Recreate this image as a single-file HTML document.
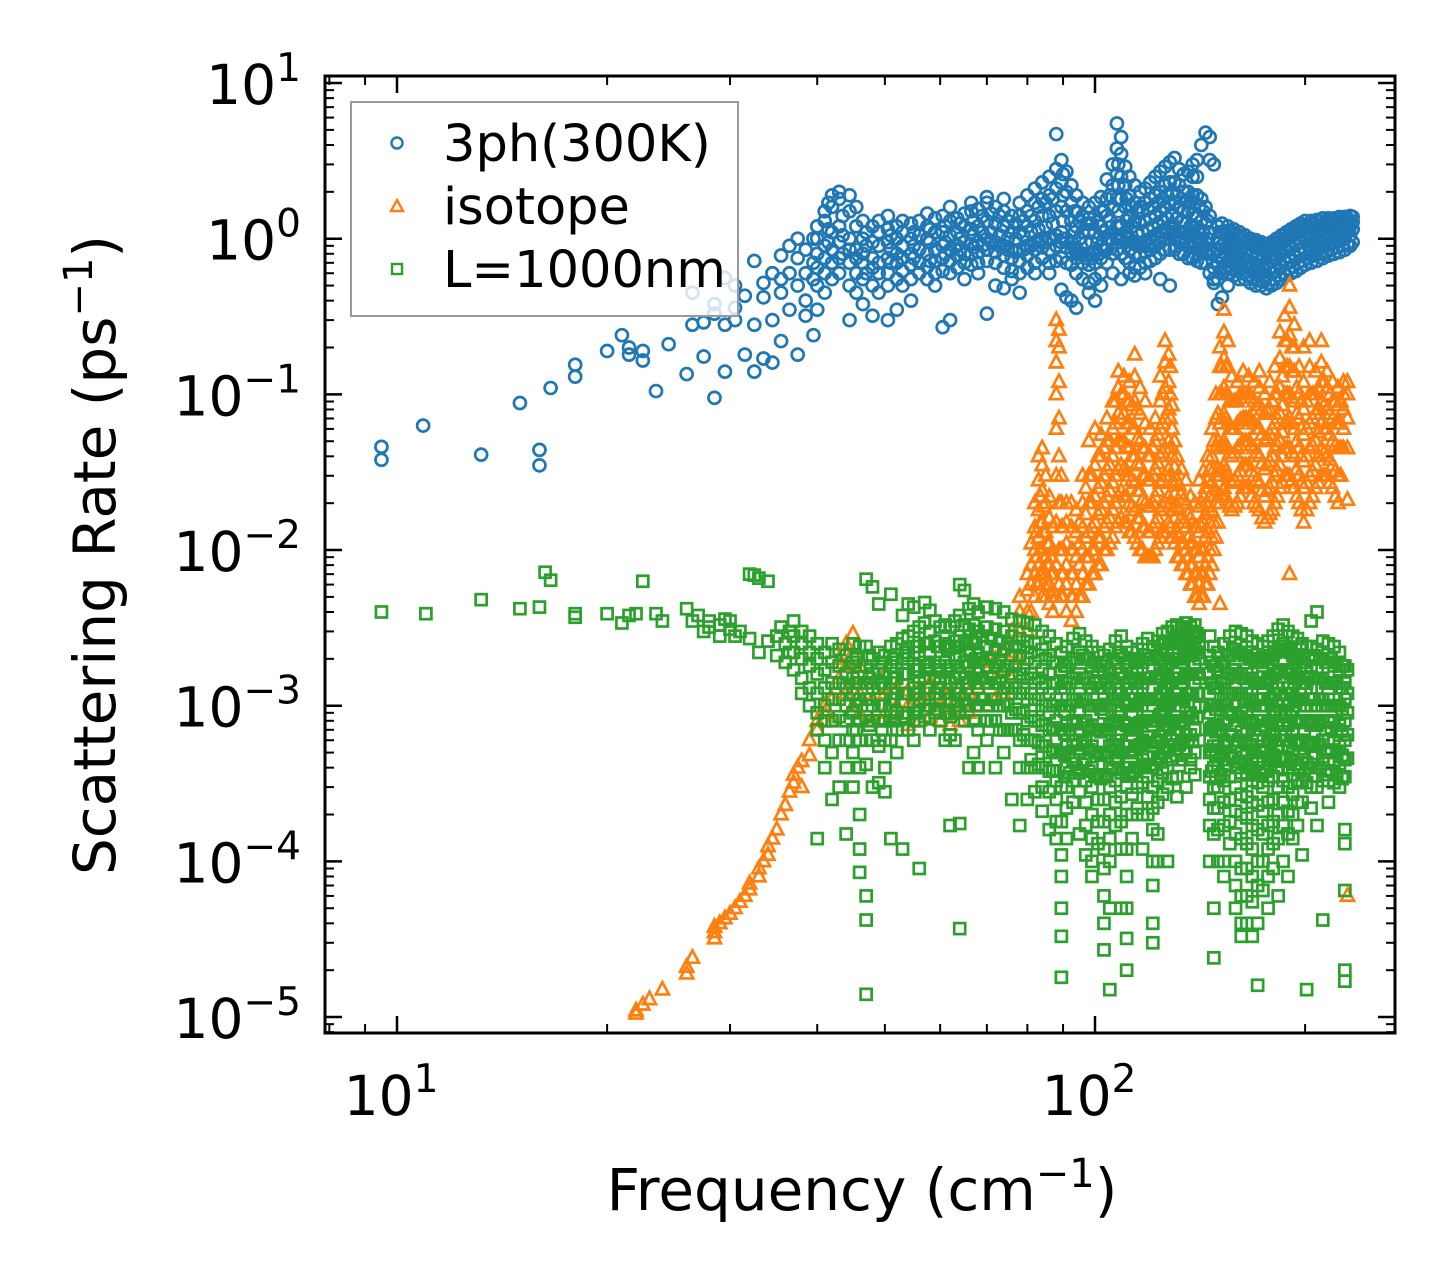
<!DOCTYPE html>
<html><head><meta charset="utf-8"><style>
html,body{margin:0;padding:0;background:#fff;}
svg{display:block;font-family:"DejaVu Sans","Liberation Sans",sans-serif;}
</style></head><body>
<svg id="chart" width="1455" height="1283" viewBox="0 0 1455 1283">
<defs><clipPath id="plotclip"><rect x="325" y="76" width="1070" height="957"/></clipPath></defs>
<g id="points" clip-path="url(#plotclip)"></g>
<g id="axes"></g>
<text x="862" y="1210" font-size="58" text-anchor="middle">Frequency (cm<tspan dy="-23" font-size="40">−1</tspan><tspan dy="23">)</tspan></text>
<text transform="translate(115,555) rotate(-90)" font-size="58" text-anchor="middle">Scattering Rate (ps<tspan dy="-23" font-size="40">−1</tspan><tspan dy="23">)</tspan></text>
<g>
<rect x="351" y="102" width="387" height="214" fill="#fff" fill-opacity="0.8" stroke="#999" stroke-width="2"/>
<circle cx="397" cy="143" r="5.5" fill="none" stroke="#1f77b4" stroke-width="2.4"/>
<text x="443" y="161" font-size="51">3ph(300K)</text>
<polygon points="397,200 403,211 391,211" fill="none" stroke="#ff7f0e" stroke-width="2.4"/>
<text x="443" y="224" font-size="51">isotope</text>
<rect x="392" y="264" width="10" height="10" fill="none" stroke="#2ca02c" stroke-width="2.4"/>
<text x="443" y="287" font-size="51">L=1000nm</text>
</g>
</svg>
<script>
// rows: [frequency (cm^-1), rate1, rate2, ...] (ps^-1)
const threePhRows = [
[9.5,0.046,0.038],[10.9,0.063],[13.2,0.041],[15.0,0.088],[16.0,0.044,0.035],[16.6,0.11],[18.0,0.13,0.155],
[20.0,0.19],[21.0,0.24],[21.5,0.18,0.2],[22.5,0.165,0.19],[23.5,0.105],[24.5,0.21],[26.0,0.135],[26.5,0.28,0.45],
[27.5,0.175,0.29],[28.5,0.095,0.33,0.38],[29.5,0.56,0.28,0.14],[30.5,0.3,0.36,0.5],[31.5,0.18,0.43],
[32.5,0.14,0.28,0.72],[33.5,0.42,0.52,0.17],[34.5,0.6,0.3,0.16],[35.5,0.45,0.78,0.55,0.22],[36.5,0.35,0.6,0.9],
[37.5,0.18,0.5,1.0,0.75],[38.5,0.32,0.85,0.6,0.4],[39.5,0.24,0.7,1.0,0.55],
[40,0.5,0.8,1.0,1.2,0.65,0.35],[41,0.6,0.9,1.3,1.5,0.75,0.45],[42,0.7,1.1,1.6,1.9,0.85,0.55],[43,0.75,1.2,1.8,2.0,0.95,0.6],
[44.5,0.7,1.0,1.5,1.9,0.85,0.5,0.3],[45.5,0.6,0.85,1.2,1.6,0.75,0.45],[46.5,0.55,0.8,1.0,1.3,0.7,0.38],[48,0.5,0.75,0.95,1.2,0.65,0.32],
[49,0.45,0.7,0.9,1.1,1.3,0.6],[50.5,0.5,0.75,0.95,1.15,1.4,0.6,0.3],[52,0.55,0.8,1.0,1.2,0.7,0.35],[53,0.5,0.75,0.9,1.1,1.3,0.62],
[54.5,0.55,0.8,1.0,1.25,0.68,0.4],[56,0.6,0.85,1.05,1.3,0.7],[57.5,0.55,0.8,1.0,1.2,1.45,0.66],[59,0.6,0.85,1.1,1.35,0.72,0.5],
[60.5,0.62,0.9,1.1,1.4,0.75,0.27],[62,0.6,0.85,1.05,1.3,1.6,0.72,0.3],[63.5,0.65,0.9,1.1,1.35,0.78],[65,0.7,0.95,1.2,1.45,0.8,0.55],
[66.5,0.68,0.92,1.15,1.5,1.7,0.8],[68,0.7,0.95,1.2,1.55,0.82,0.6],[70,0.72,1.0,1.3,1.7,1.85,0.85,0.33],[72,0.7,0.95,1.25,1.6,0.82,0.5],
[74,0.65,0.9,1.2,1.5,1.8,0.78,0.48],[76,0.62,0.85,1.1,1.4,0.75,0.55],[78,0.6,0.85,1.1,1.4,1.7,0.72,0.45],[80,0.65,0.9,1.2,1.5,1.9,0.78],
[82,0.7,0.95,1.3,1.7,2.1,0.85,0.6],[84,0.75,1.0,1.4,1.8,2.3,0.88],[86,0.7,1.0,1.4,1.9,2.5,0.85,0.6],[88,0.72,1.05,1.5,2.1,2.8,0.9,4.7],
[89.5,0.75,1.1,1.6,2.3,3.2,0.95,0.47],[91,0.7,1.0,1.5,2.0,2.7,0.88,0.42],[92.5,0.68,0.95,1.3,1.7,2.2,0.82,0.4],[94,0.6,0.85,1.2,1.5,1.9,0.75,0.36],
[96,0.55,0.8,1.1,1.4,1.7,0.7],[98,0.52,0.8,1.1,1.35,1.6,0.68,0.45],[100,0.55,0.82,1.1,1.4,1.7,0.7,0.4],[102,0.6,0.9,1.2,1.5,1.85,0.75,0.5],
[104,0.7,1.0,1.4,1.8,2.4,0.85],[106,0.8,1.1,1.6,2.2,3.0,0.95,0.6],[107.5,0.85,1.2,1.8,2.6,3.8,5.5,1.0],[109,0.8,1.2,1.8,2.5,3.5,4.5,1.0,0.55],
[110.5,0.75,1.1,1.6,2.2,2.9,0.95],[112,0.7,1.0,1.4,1.9,2.5,0.85,0.6],[114,0.65,0.95,1.3,1.7,2.2,0.8,0.58],[116,0.65,0.9,1.25,1.6,2.0,0.78],
[118,0.7,0.95,1.3,1.7,2.1,0.82,0.6],[120,0.72,1.0,1.35,1.8,2.3,0.85],[122,0.75,1.05,1.4,1.9,2.5,0.9],[124,0.8,1.1,1.5,2.0,2.7,0.95,0.55],
[126,0.85,1.15,1.6,2.2,2.9,1.0],[128,0.85,1.2,1.7,2.3,3.1,1.0,0.5],[130,0.85,1.2,1.7,2.3,3.3,1.0],[132,0.8,1.1,1.6,2.2,2.8,0.95],
[134,0.8,1.1,1.5,2.0,2.6,0.92],[136,0.75,1.05,1.5,2.0,2.7,0.9],[138,0.75,1.05,1.45,1.9,2.5,3.0,0.88],[140,0.72,1.0,1.4,1.9,2.5,3.2,0.85],
[142,0.7,1.0,1.3,1.8,0.85,4.0],[144,0.7,0.95,1.25,1.6,0.82,4.8],[146,0.6,0.85,1.1,1.4,4.5,3.2],[148,0.52,0.55,0.65,0.8,3.0],
[150,0.55,0.7,0.85,1.0,1.2,0.38],[152,0.6,0.75,0.9,1.1,1.25,0.42],[155,0.6,0.72,0.88,1.05,1.2,0.5],[158,0.58,0.7,0.85,1.0,1.15],
[161,0.55,0.68,0.82,0.98,1.1],[164,0.55,0.66,0.8,0.95,1.05],[167,0.52,0.64,0.78,0.92,1.0],[170,0.5,0.6,0.74,0.88,0.98],
[173,0.5,0.6,0.72,0.85,0.95],[176,0.48,0.58,0.7,0.82,0.92],[179,0.5,0.6,0.72,0.84,0.95],[182,0.52,0.62,0.75,0.88,1.0],
[185,0.55,0.66,0.8,0.92,1.05],[188,0.58,0.7,0.84,0.98,1.1],[191,0.6,0.72,0.88,1.02,1.15],[194,0.62,0.76,0.92,1.08,1.2],
[197,0.65,0.8,0.95,1.1,1.25],[200,0.68,0.82,1.0,1.15,1.3],[204,0.7,0.85,1.02,1.18,1.3],[208,0.72,0.88,1.05,1.2,1.32],
[212,0.75,0.9,1.05,1.2,1.35],[216,0.78,0.92,1.08,1.22,1.35],[220,0.8,0.95,1.1,1.25,1.35],[224,0.82,0.98,1.12,1.25,1.38],
[228,0.85,1.0,1.15,1.28,1.38],[232,0.9,1.05,1.2,1.3,1.4],
[41.5,0.95,1.15,1.7],[43.5,1.4,1.05,0.8],[47,0.9,1.1,0.6],[51,0.85,1.05,0.7],[55,0.9,1.1,0.75],[58,0.95,1.15,0.72],[61,0.95,1.2,0.8],
[64,1.0,1.25,0.85],[67,1.05,1.3,0.88],[69,1.1,1.4,0.9],[71,1.1,1.45,0.95],[73,1.05,1.4,0.9],[75,1.0,1.3,0.85],[77,1.0,1.25,0.82],
[79,1.05,1.3,0.85],[81,1.1,1.4,0.9],[83,1.15,1.6,0.95],[85,1.2,1.7,0.95],[87,1.25,1.8,1.0],[90,1.3,1.9,1.0,2.6],[93.5,1.1,1.5,0.85],
[95,1.0,1.3,0.8],[97,0.95,1.25,0.75],[99,0.95,1.25,0.75],[101,1.0,1.3,0.8],[103,1.1,1.5,0.85],[105,1.3,1.9,1.0],[108,1.5,2.2,3.0,1.2],
[111,1.3,1.8,1.0],[113,1.2,1.6,0.95],[115,1.1,1.5,0.9],[117,1.1,1.5,0.9],[119,1.15,1.55,0.9],[121,1.2,1.6,0.95],[123,1.25,1.7,1.0],
[125,1.3,1.8,1.05],[127,1.35,1.9,1.1],[129,1.4,2.0,1.1],[131,1.35,1.9,1.05],[133,1.3,1.8,1.0],[135,1.25,1.75,1.0],[137,1.2,1.7,0.95],
[139,1.2,1.7,0.95],[141,1.15,1.6,0.92],[143,1.1,1.5,0.9],[145,1.0,1.3,0.8],
[151,0.62,0.78,0.95,1.1],[153.5,0.65,0.8,0.95,1.12],[156.5,0.64,0.78,0.95,1.1],[159.5,0.62,0.76,0.92,1.05],[162.5,0.6,0.74,0.88,1.02],
[165.5,0.58,0.72,0.86,0.98],[168.5,0.55,0.68,0.82,0.95],[171.5,0.54,0.66,0.8,0.92],[174.5,0.53,0.64,0.76,0.88],[177.5,0.52,0.64,0.76,0.88],
[180.5,0.55,0.66,0.8,0.92],[183.5,0.58,0.7,0.84,0.96],[186.5,0.6,0.74,0.87,1.0],[189.5,0.64,0.77,0.92,1.05],[192.5,0.66,0.8,0.96,1.1],
[195.5,0.7,0.85,1.0,1.15],[198.5,0.72,0.88,1.05,1.2],[202,0.75,0.92,1.08,1.22],[206,0.78,0.95,1.12,1.25],[210,0.8,0.98,1.12,1.28],
[214,0.82,1.0,1.15,1.28],[218,0.85,1.02,1.18,1.3],[222,0.88,1.04,1.18,1.3],[226,0.9,1.06,1.2,1.32],[230,0.92,1.1,1.25,1.35],[234,0.95,1.15,1.28,1.38]
];
const isotopeRows = [
[22,1.05e-5,1.1e-5],[22.5,1.2e-5],[23,1.3e-5],[24,1.5e-5],[26,1.9e-5,2.1e-5],[26.5,2.4e-5],[28.5,3.2e-5,3.5e-5,3.8e-5],
[29,4e-5],[29.5,4.3e-5],[30,4.6e-5],[30.5,5e-5],[31,5.5e-5],[31.5,6e-5],[32,6.6e-5,7.2e-5],[33,8e-5,9e-5],[33.5,1e-4],
[34,1.1e-4,1.25e-4],[34.5,1.4e-4],[35,1.6e-4],[35.5,2e-4],[36,2.3e-4],[36.5,2.8e-4],[37,3.2e-4,3.6e-4],[37.5,4e-4],
[38,4.4e-4,3e-4],[39,4.8e-4,6e-4],[40,7e-4,8e-4],[41,9e-4,1e-3],[42,1.1e-3,0.8e-3],[43,1.5e-3,2e-3],
[44,1.2e-3,1.8e-3,2.5e-3],[45,1.4e-3,2.2e-3,2.9e-3,1.0e-3],[46,1.2e-3,1.8e-3,0.9e-3],[48,0.8e-3,1.1e-3,1.4e-3],[50,0.9e-3,1.2e-3,1.6e-3],
[52,0.8e-3,1.0e-3,1.3e-3],[54,0.75e-3,1.0e-3,1.25e-3],[56,0.8e-3,1.05e-3,1.3e-3],[58,0.85e-3,1.1e-3,1.4e-3],[60,0.8e-3,1.0e-3,1.3e-3],
[62,0.75e-3,0.95e-3,1.2e-3],[64,0.8e-3,1.0e-3,1.3e-3],[66,0.9e-3,1.2e-3,1.5e-3],[68,1.0e-3,1.3e-3,1.7e-3],[70,1.0e-3,1.4e-3,1.9e-3],
[72,1.1e-3,1.5e-3,2.0e-3],[74,1.2e-3,1.7e-3,2.3e-3],[76,1.5e-3,2.2e-3,3e-3],[78,2e-3,3e-3,4e-3,5e-3],[80,3e-3,4e-3,5.5e-3,7e-3],
[81,4e-3,6e-3,8e-3,0.011],[82,5e-3,7e-3,0.01,0.014,0.02],[83,6e-3,8e-3,0.012,0.018,0.028,0.04],[84,5e-3,7e-3,0.01,0.015,0.024,0.035,0.045],
[85,5e-3,7e-3,0.009,0.013,0.02,0.03],[86,4.5e-3,6e-3,0.008,0.011,0.016,0.022],[87,4e-3,5.5e-3,0.007,0.01,0.014],
[88,5e-3,0.008,0.015,0.03,0.06,0.1,0.16,0.22,0.3],[88.8,6e-3,0.01,0.02,0.04,0.07,0.12,0.2,0.26],[89.5,5e-3,0.007,0.01,0.014,0.02,0.03],
[91,4e-3,0.006,0.008,0.011,0.015,0.02],[92.5,3.5e-3,0.005,0.007,0.01,0.014,0.02],[94,4e-3,0.006,0.009,0.013,0.018],
[96,5e-3,0.007,0.01,0.014,0.02,0.03],[98,6e-3,0.009,0.013,0.02,0.03,0.05],[100,7e-3,0.01,0.015,0.022,0.035,0.06],
[102,8e-3,0.012,0.018,0.027,0.04,0.055],[104,0.01,0.015,0.022,0.033,0.05,0.07],[106,0.012,0.018,0.027,0.04,0.06,0.09],
[108,0.015,0.022,0.033,0.05,0.075,0.11,0.14],[110,0.015,0.022,0.033,0.05,0.075,0.1,0.13],[112,0.013,0.02,0.03,0.045,0.065,0.09,0.12],
[114,0.012,0.018,0.027,0.04,0.06,0.09,0.13,0.18],[116,0.01,0.016,0.024,0.035,0.05,0.075,0.11],[118,0.009,0.014,0.02,0.03,0.045,0.065,0.09],
[120,0.009,0.013,0.019,0.028,0.04,0.06],[122,0.01,0.015,0.022,0.033,0.05,0.07],[124,0.012,0.018,0.027,0.04,0.06,0.09,0.13],
[126,0.013,0.02,0.03,0.045,0.07,0.11,0.16,0.22],[127.5,0.015,0.022,0.033,0.05,0.08,0.12,0.18],[129,0.012,0.018,0.027,0.04,0.06,0.085],
[131,0.009,0.013,0.019,0.028,0.04],[133,0.008,0.011,0.016,0.023,0.033],[135,0.007,0.01,0.014,0.02,0.028],[137,0.006,0.008,0.011,0.016,0.022],
[139,0.005,0.007,0.01,0.014,0.02],[141,0.0045,0.006,0.009,0.013,0.019,0.028],[143,0.005,0.007,0.01,0.015,0.022,0.032],
[145,0.006,0.009,0.013,0.019,0.028,0.04],[147,0.008,0.012,0.018,0.027,0.04,0.06],[149,0.012,0.02,0.03,0.045,0.07,0.1],
[151,0.02,0.03,0.045,0.065,0.1,0.15,0.2,0.0045],[153,0.025,0.035,0.05,0.075,0.11,0.17,0.25,0.35],[155,0.02,0.03,0.045,0.065,0.1,0.15,0.22],
[157,0.018,0.027,0.04,0.06,0.09,0.13],[160,0.02,0.03,0.045,0.065,0.09,0.12],[163,0.025,0.035,0.05,0.07,0.1,0.14],
[166,0.025,0.035,0.05,0.07,0.1,0.13],[169,0.02,0.03,0.045,0.065,0.09,0.12],[172,0.018,0.027,0.04,0.06,0.085,0.11,0.14],
[175,0.015,0.022,0.033,0.05,0.075,0.1],[178,0.017,0.025,0.037,0.055,0.08,0.12],[181,0.02,0.03,0.045,0.065,0.1,0.15],
[184,0.025,0.035,0.05,0.075,0.11,0.17,0.25],[187,0.03,0.045,0.065,0.1,0.15,0.22,0.32],[190,0.03,0.045,0.07,0.1,0.15,0.24,0.36,0.5,0.007],
[193,0.025,0.04,0.06,0.09,0.14,0.2,0.28],[196,0.02,0.03,0.045,0.07,0.1,0.15],[199,0.015,0.025,0.037,0.055,0.08,0.12,0.2],
[203,0.02,0.03,0.045,0.065,0.1,0.15,0.22],[207,0.025,0.035,0.05,0.075,0.1,0.14],[211,0.03,0.045,0.065,0.09,0.12,0.16,0.22],
[215,0.03,0.04,0.06,0.08,0.11,0.14],[219,0.025,0.035,0.05,0.07,0.09,0.12],[223,0.02,0.03,0.045,0.065,0.085,0.11],
[227,0.045,0.06,0.08,0.1,0.12],[230,0.021,0.045,0.07,0.1,0.12,6e-5],
[82.5,0.006,0.009,0.013],[83.5,0.007,0.01,0.015,0.022],[84.5,0.006,0.009,0.013,0.019],[85.5,0.006,0.008,0.011],[86.5,0.005,0.007,0.009],
[90,0.005,0.007,0.01,0.014],[93,0.005,0.007,0.01],[95,0.005,0.008,0.011,0.015],[97,0.006,0.009,0.012,0.017,0.025],[99,0.007,0.01,0.014,0.02,0.03],
[101,0.008,0.012,0.017,0.025,0.04],[103,0.01,0.014,0.02,0.03,0.045],[105,0.011,0.016,0.024,0.035,0.05],[107,0.014,0.02,0.03,0.045,0.065,0.09],
[109,0.016,0.024,0.035,0.05,0.07,0.1],[111,0.015,0.022,0.032,0.046,0.065,0.09],[113,0.013,0.019,0.028,0.04,0.06,0.085],
[115,0.011,0.016,0.024,0.036,0.052,0.08],[117,0.01,0.014,0.021,0.03,0.045],[119,0.009,0.013,0.019,0.028,0.04],[121,0.009,0.014,0.02,0.03,0.045],
[123,0.011,0.016,0.024,0.036,0.055],[125,0.013,0.019,0.028,0.042,0.065,0.1],[128.2,0.014,0.02,0.03,0.045,0.07,0.1,0.15],
[130,0.011,0.016,0.023,0.034,0.05],[132,0.009,0.012,0.018,0.026],[134,0.008,0.011,0.015,0.021],[136,0.007,0.009,0.012,0.017],
[138,0.006,0.008,0.011,0.015],[140,0.005,0.007,0.01,0.014],[142,0.005,0.007,0.01,0.014,0.02],[144,0.006,0.008,0.012,0.017,0.025],
[146,0.007,0.01,0.015,0.022,0.033],[148,0.01,0.015,0.022,0.033,0.05],[150,0.015,0.022,0.033,0.05,0.075],[152,0.022,0.032,0.047,0.07,0.1,0.15],
[154,0.022,0.032,0.047,0.07,0.1,0.15],[156,0.019,0.028,0.042,0.06,0.09],[158.5,0.019,0.028,0.042,0.06,0.09],[161.5,0.022,0.032,0.047,0.068,0.1],
[164.5,0.025,0.035,0.05,0.07,0.1],[167.5,0.022,0.032,0.047,0.068,0.095],[170.5,0.019,0.028,0.042,0.06,0.085],[173.5,0.016,0.024,0.036,0.055,0.08],
[176.5,0.016,0.024,0.035,0.052,0.078],[179.5,0.018,0.027,0.04,0.06,0.09],[182.5,0.022,0.032,0.047,0.07,0.1],[185.5,0.027,0.04,0.057,0.085,0.13],
[188.5,0.03,0.045,0.067,0.1,0.15,0.22],[191.5,0.028,0.042,0.065,0.095,0.14,0.2],[194.5,0.022,0.033,0.05,0.075,0.11],[197.5,0.018,0.027,0.04,0.06,0.09],
[201,0.018,0.027,0.04,0.06,0.09],[205,0.022,0.032,0.047,0.07,0.1],[209,0.027,0.04,0.057,0.08,0.11],[213,0.03,0.042,0.06,0.085,0.12],
[217,0.027,0.038,0.055,0.075,0.1],[221,0.022,0.032,0.047,0.065,0.09],[225,0.03,0.045,0.065,0.09]
];
const boundaryRows = [
[9.5,0.004],[11,0.0039],[13.2,0.0048],[15,0.0042],[16,0.0043],[16.3,0.0072],[16.6,0.0064],[18,0.0037,0.0039],[20,0.0039],
[21,0.0034],[21.5,0.0038],[22,0.0039],[22.5,0.0063],[23.5,0.0039],[24,0.0035],[26,0.0042],[26.5,0.0035],[27,0.0038],
[27.5,0.003],[28,0.0032,0.0035],[29,0.0033,0.0028],[29.5,0.0036],[30,0.0035,0.0031],[30.5,0.0028],[31,0.003],[32,0.007,0.0027],
[32.5,0.0069],[33,0.0066,0.0022],[34,0.0063,0.0026],[35,0.0028,0.0021],[35.5,0.0032],[36,0.0025,0.0019],[36.5,0.0022,0.003],
[37,0.0028,0.0022,0.0035,0.0017],[38,0.0025,0.002,0.0015,0.003,0.0012],[39,0.0022,0.0018,0.0013,0.001,0.0028],
[40,0.002,0.0016,0.0012,0.0009,0.0007,0.0025,0.00014],[41,0.0022,0.0017,0.0013,0.001,0.0008,0.0006,0.0004],
[42,0.0025,0.0019,0.0014,0.0011,0.0008,0.0005,0.00025],[43,0.0023,0.0018,0.0014,0.0011,0.00085,0.0006,0.0003],
[44,0.0021,0.0016,0.0013,0.001,0.0008,0.0006,0.0004,0.00015],[45,0.0025,0.0019,0.0015,0.0012,0.0009,0.0007,0.0005,0.0003],
[46,0.0024,0.0018,0.0014,0.0011,0.0008,0.0006,0.0004,0.0002,0.00012,0.000085],
[47,0.0065,0.0024,0.0018,0.0014,0.0011,0.00085,0.0006,0.00042,0.00006,0.000042,0.000014],
[48,0.0058,0.002,0.0016,0.0013,0.001,0.0008,0.0006,0.0003],[49,0.0045,0.0022,0.0017,0.0013,0.001,0.0008,0.00055,0.00032],
[50,0.0021,0.0016,0.0013,0.001,0.0008,0.0006,0.0004,0.00028],[51,0.0052,0.0024,0.0018,0.0014,0.0011,0.00085,0.0006,0.00014],
[52,0.0025,0.0019,0.0015,0.0012,0.0009,0.0007,0.0005],[53,0.0038,0.0027,0.002,0.0016,0.0012,0.0009,0.0007,0.00012],
[54,0.0045,0.0028,0.0021,0.0016,0.0012,0.0009,0.0007],[55,0.0043,0.003,0.0022,0.0017,0.0013,0.001,0.0008,0.0006],
[56,0.0032,0.0024,0.0018,0.0014,0.0011,0.0008,0.00009],[57,0.0046,0.0034,0.0025,0.0019,0.0015,0.0011,0.00085],
[58,0.0041,0.003,0.0022,0.0017,0.0013,0.001,0.0007],[59,0.0035,0.0026,0.0019,0.0015,0.0012,0.0009],
[60,0.0032,0.0024,0.0018,0.0014,0.0011,0.0008],[61,0.0033,0.0025,0.0019,0.0015,0.0012,0.0009,0.0006],
[62,0.0032,0.0024,0.0018,0.0014,0.0011,0.00085,0.00065,0.00017],[63,0.0035,0.0026,0.002,0.0015,0.0012,0.0009,0.0006],
[64,0.006,0.0038,0.0028,0.0021,0.0016,0.0012,0.0009,0.000037,0.000175],[65,0.0055,0.0033,0.0025,0.0019,0.0015,0.0011,0.0008],
[66,0.0042,0.0031,0.0023,0.0018,0.0014,0.001,0.0004],[67,0.0045,0.0033,0.0025,0.0019,0.0015,0.0011,0.0008,0.0005],
[68,0.004,0.003,0.0022,0.0017,0.0013,0.001,0.0007,0.0004],[70,0.0043,0.0032,0.0024,0.0018,0.0014,0.001,0.0008,0.0006],
[72,0.0042,0.0031,0.0023,0.0018,0.0014,0.0011,0.0008,0.0004],[74,0.004,0.003,0.0023,0.0017,0.0013,0.001,0.0007,0.0005],
[76,0.0036,0.0028,0.0021,0.0016,0.0012,0.0009,0.0007,0.00025],[78,0.0035,0.0027,0.0021,0.0016,0.0012,0.0009,0.0006,0.0004,0.00017],
[80,0.0034,0.0026,0.002,0.0015,0.0011,0.0008,0.0006,0.0004,0.00025],[82,0.0033,0.0025,0.0019,0.0014,0.0011,0.0008,0.0006,0.0004,0.00028],
[84,0.003,0.0023,0.0017,0.0013,0.001,0.00075,0.00055,0.0004,0.0003,0.00021],
[86,0.0028,0.0021,0.0016,0.0012,0.0009,0.0007,0.0005,0.00038,0.00028,0.00016],
[88,0.0025,0.0019,0.0014,0.0011,0.0008,0.0006,0.00045,0.00033,0.00025,0.00018,0.00014],
[89.5,0.0022,0.0017,0.0013,0.001,0.0007,0.0005,0.0003,0.00018,0.00011,0.00008,0.00005,0.000033,0.000018],
[91,0.0024,0.0018,0.0014,0.001,0.00075,0.00055,0.0004,0.0003,0.00022,0.00014],
[93,0.0027,0.002,0.0015,0.0011,0.0008,0.0006,0.00045,0.00033,0.00024],
[95,0.0029,0.0022,0.0016,0.0012,0.0009,0.00065,0.0005,0.00037,0.00028,0.00015],
[97,0.0026,0.002,0.0015,0.0011,0.0008,0.0006,0.00045,0.00033,0.00024,0.00017,0.00011],
[99,0.0024,0.0018,0.0013,0.001,0.00075,0.00055,0.0004,0.0003,0.0002,0.00014,0.0001,0.00008],
[101,0.0022,0.0017,0.0013,0.001,0.0007,0.0005,0.00035,0.00025,0.00018,0.00013],
[103,0.0021,0.0016,0.0012,0.0009,0.0007,0.0005,0.00035,0.00025,0.00018,0.00012,0.00009,0.00006,0.00004,0.000027],
[105,0.0023,0.0017,0.0013,0.001,0.00075,0.00055,0.0004,0.0003,0.0002,0.00014,0.0001,0.00005,0.000015],
[107,0.0026,0.0019,0.0014,0.0011,0.0008,0.0006,0.00045,0.00033,0.00024,0.00017],
[109,0.0028,0.0021,0.0016,0.0012,0.0009,0.00065,0.0005,0.00037,0.00026,0.00018,0.00012,0.00005],
[111,0.0024,0.0018,0.0013,0.001,0.00075,0.00055,0.0004,0.0003,0.0002,0.00012,0.00008,0.00005,0.000032,0.00002],
[113,0.0022,0.0016,0.0012,0.0009,0.0007,0.0005,0.00037,0.00027,0.0002,0.00014],
[115,0.0023,0.0017,0.0013,0.001,0.00075,0.00055,0.0004,0.0003,0.00022],
[117,0.0025,0.0019,0.0014,0.0011,0.0008,0.0006,0.00045,0.00032,0.0002,0.00012],
[119,0.0027,0.002,0.0015,0.0011,0.00085,0.00063,0.00047,0.00035,0.00026,0.0002],
[121,0.0024,0.0018,0.0013,0.001,0.00075,0.00055,0.0004,0.0003,0.00022,0.00016,0.0001,0.00007,0.00004,0.00003],
[123,0.0026,0.002,0.0015,0.0011,0.0008,0.0006,0.00045,0.00033,0.00024,0.00015,0.0001],
[125,0.0029,0.0022,0.0016,0.0012,0.0009,0.0007,0.0005,0.00037,0.00027],
[127,0.003,0.0023,0.0017,0.0013,0.001,0.00075,0.00055,0.0004,0.0003,0.0001],
[129,0.0032,0.0025,0.0019,0.0014,0.0011,0.0008,0.0006,0.00045,0.00034],
[131,0.0033,0.0026,0.002,0.0015,0.0011,0.00085,0.00065,0.00048,0.00035,0.00026],
[133,0.0032,0.0025,0.0019,0.0014,0.0011,0.0008,0.0006,0.00045],
[135,0.0034,0.0027,0.0021,0.0016,0.0012,0.0009,0.00065,0.0005,0.0003],
[137,0.0032,0.0026,0.0021,0.0016,0.0012,0.0009,0.00065,0.00045,0.0004],
[139,0.0033,0.0028,0.0023,0.0018,0.0014,0.001,0.0007,0.0005,0.00036],
[141,0.0028,0.0025,0.002,0.0015,0.00098,0.0006],
[146,0.0028,0.0021,0.0016,0.0012,0.0009,0.0007,0.0005,0.00035,0.00025,0.00017,0.0001],
[148,0.0024,0.0018,0.0013,0.001,0.00075,0.00055,0.0004,0.0003,0.00022,0.00015,0.00005,0.000024],
[150,0.0022,0.0017,0.0013,0.001,0.00075,0.00055,0.0004,0.0003,0.00022,0.00016,0.0001],
[153,0.0025,0.0019,0.0014,0.0011,0.0008,0.0006,0.00045,0.00033,0.00024,0.00017,0.0001,0.00008],
[156,0.0028,0.0021,0.0016,0.0012,0.0009,0.00065,0.00048,0.00035,0.00025,0.00018,0.00013],
[159,0.003,0.0023,0.0017,0.0013,0.001,0.00075,0.00055,0.0004,0.0003,0.00021,0.00015,0.0001,0.00007,0.00005],
[162,0.0029,0.0022,0.0016,0.0012,0.0009,0.00068,0.0005,0.00037,0.00027,0.0002,0.00014,0.00009,0.00006,0.00004,0.000033],
[165,0.0028,0.0021,0.0016,0.0012,0.0009,0.00066,0.00049,0.00036,0.00026,0.00019,0.00013,0.00009,0.00006,0.00004],
[168,0.0026,0.002,0.0015,0.0011,0.0008,0.0006,0.00045,0.00033,0.00024,0.00017,0.00012,0.00008,0.000055,0.000033],
[171,0.0025,0.0019,0.0014,0.0011,0.0008,0.0006,0.00044,0.00032,0.00023,0.00016,0.0001,0.00007,0.00004,0.000016],
[174,0.0024,0.0018,0.0013,0.001,0.00075,0.00055,0.0004,0.0003,0.00021,0.00015,0.0001,0.000065],
[177,0.0026,0.002,0.0015,0.0011,0.0008,0.0006,0.00045,0.00033,0.00024,0.00017,0.00012,0.00008,0.00005],
[180,0.0028,0.0021,0.0016,0.0012,0.0009,0.00066,0.00048,0.00035,0.00025,0.00018,0.00013,0.00009],
[183,0.0031,0.0023,0.0017,0.0013,0.001,0.00075,0.00055,0.0004,0.0003,0.0002,0.00014,0.00006],
[186,0.0033,0.0025,0.0019,0.0014,0.0011,0.0008,0.0006,0.00045,0.00033,0.00024,0.00017,0.0001],
[189,0.003,0.0023,0.0017,0.0013,0.001,0.00075,0.00055,0.0004,0.0003,0.00021,0.00015,0.00008],
[192,0.0028,0.0021,0.0016,0.0012,0.0009,0.00066,0.00049,0.00036,0.00027,0.0002,0.00014],
[195,0.0027,0.002,0.0015,0.0011,0.0008,0.0006,0.00045,0.00033,0.00024,0.00017],
[198,0.0025,0.0019,0.0014,0.0011,0.0008,0.0006,0.00045,0.00033,0.00024,0.00011],
[201,0.0024,0.0018,0.0014,0.001,0.00078,0.00058,0.00043,0.00032,0.000015],
[204,0.0035,0.0024,0.0018,0.0013,0.001,0.00075,0.00055,0.0004,0.0003,0.00022],
[208,0.004,0.0023,0.0017,0.0013,0.001,0.00075,0.00055,0.0004,0.0003,0.00017],
[212,0.0026,0.002,0.0015,0.0011,0.0008,0.0006,0.00045,0.00033,0.000042],
[216,0.0025,0.0019,0.0014,0.0011,0.0008,0.0006,0.00045,0.00033,0.00024],
[220,0.0024,0.0018,0.0014,0.001,0.00078,0.00058,0.00043,0.00032],
[224,0.0022,0.0017,0.0013,0.001,0.00075,0.00055,0.0004,0.0003],
[228,0.0018,0.0014,0.0011,0.0008,0.0006,0.00045,0.00035,0.00016,0.00013,0.000065,0.00002,0.000017],
[45.5,0.002,0.0014,0.001,0.0007],[47.5,0.0021,0.0015,0.0011,0.00075],[49.5,0.0019,0.0014,0.001,0.0007],[51.5,0.002,0.0015,0.0011,0.0008],
[53.5,0.0022,0.0016,0.0012,0.00085],[55.5,0.0024,0.0017,0.0012,0.0009],[57.5,0.0025,0.0018,0.0013,0.00095],[59.5,0.0024,0.0017,0.0013,0.00095],
[61.5,0.0023,0.0017,0.0012,0.0009],[63.5,0.0024,0.0018,0.0013,0.001],[65.5,0.0026,0.0019,0.0014,0.001],[67.5,0.0027,0.002,0.0014,0.001],
[69,0.0028,0.002,0.0015,0.0011],[71,0.0027,0.002,0.0015,0.0011,0.0008],[73,0.0026,0.0019,0.0014,0.001,0.0007],[75,0.0025,0.0018,0.0013,0.001,0.0007],
[77,0.0024,0.0018,0.0013,0.00095,0.0007],[79,0.0024,0.0017,0.0013,0.0009,0.00065],
[81,0.0022,0.0016,0.0012,0.00085,0.0006,0.00045],[83,0.0021,0.0015,0.0011,0.0008,0.00058,0.00042],[85,0.002,0.0014,0.001,0.00075,0.00055,0.0004],
[87,0.0019,0.0014,0.001,0.00072,0.00052,0.00038],[90.5,0.0018,0.0013,0.00092,0.00066,0.00048,0.00035],[92,0.0019,0.0014,0.001,0.0007,0.0005,0.00037],
[94,0.002,0.0015,0.0011,0.00078,0.00056,0.0004],[96,0.0021,0.0015,0.0011,0.0008,0.00058,0.00042],[98,0.002,0.0014,0.001,0.00072,0.00052,0.00038],
[100,0.0019,0.0014,0.001,0.0007,0.0005,0.00036],[102,0.0018,0.0013,0.00095,0.00068,0.00048,0.00034],[104,0.0019,0.0014,0.001,0.0007,0.0005,0.00036],
[106,0.002,0.0015,0.0011,0.00078,0.00056,0.0004],[108,0.0022,0.0016,0.0012,0.00085,0.0006,0.00044],[110,0.002,0.0015,0.0011,0.00078,0.00055,0.0004],
[112,0.0019,0.0014,0.001,0.0007,0.0005,0.00036],[114,0.0019,0.0014,0.001,0.00072,0.00052,0.00038],[116,0.002,0.0015,0.0011,0.00078,0.00056,0.0004],
[118,0.0021,0.0015,0.0011,0.0008,0.00058,0.00042],[120,0.002,0.0015,0.0011,0.0008,0.00058,0.00042],[122,0.0021,0.0015,0.0011,0.0008,0.00058,0.00042],
[124,0.0023,0.0017,0.0012,0.00088,0.00064,0.00046],[126,0.0025,0.0018,0.0013,0.00095,0.0007,0.0005],[128,0.0026,0.0019,0.0014,0.001,0.00072,0.00052],
[130,0.0027,0.002,0.0015,0.0011,0.00078,0.00056],[132,0.0027,0.002,0.0015,0.0011,0.00078,0.00056],[134,0.0028,0.0021,0.0015,0.0011,0.0008,0.00058],
[136,0.0029,0.0022,0.0016,0.0012,0.00085,0.0006],[138,0.003,0.0022,0.0016,0.0012,0.00085,0.0006],[140,0.0029,0.0022,0.0016,0.0012,0.00085],
[147,0.0019,0.0014,0.001,0.00072,0.00052,0.00038],[149,0.0018,0.0013,0.00095,0.00068,0.00048,0.00034],[151.5,0.0019,0.0014,0.001,0.0007,0.0005,0.00036],
[154.5,0.0021,0.0015,0.0011,0.0008,0.00058,0.00042],[157.5,0.0023,0.0017,0.0012,0.00088,0.00064,0.00046],[160.5,0.0022,0.0016,0.0012,0.00085,0.0006,0.00044],
[163.5,0.0021,0.0015,0.0011,0.0008,0.00058,0.00042],[166.5,0.002,0.0015,0.0011,0.00078,0.00056,0.0004],[169.5,0.0019,0.0014,0.001,0.0007,0.0005,0.00036],
[172.5,0.0019,0.0014,0.001,0.0007,0.0005,0.00036],[175.5,0.002,0.0014,0.001,0.00072,0.00052,0.00038],[178.5,0.0021,0.0015,0.0011,0.0008,0.00058,0.00042],
[181.5,0.0022,0.0016,0.0012,0.00085,0.0006,0.00044],[184.5,0.0024,0.0017,0.0012,0.0009,0.00065,0.00047],[187.5,0.0023,0.0017,0.0012,0.00088,0.00064,0.00046],
[190.5,0.0022,0.0016,0.0012,0.00085,0.0006,0.00044],[193.5,0.0021,0.0015,0.0011,0.0008,0.00058,0.00042],[196.5,0.002,0.0015,0.0011,0.00078,0.00056,0.0004],
[199.5,0.0019,0.0014,0.001,0.0007,0.0005,0.00036],[202.5,0.002,0.0015,0.0011,0.00078,0.00056,0.0004],[206,0.0021,0.0015,0.0011,0.0008,0.00058,0.00042],
[210,0.002,0.0015,0.0011,0.00078,0.00056,0.0004],[214,0.0019,0.0014,0.001,0.0007,0.0005,0.00036],[218,0.002,0.0014,0.001,0.00072,0.00052,0.00038],
[222,0.0019,0.0014,0.001,0.0007,0.0005,0.00036],[226,0.0018,0.0013,0.00095,0.00068,0.00048,0.00034],[230,0.0017,0.0012,0.0009,0.00065,0.00046]
];
const xTickExps = [1, 2];
const yTickExps = [1, 0, -1, -2, -3, -4, -5];

const NS = "http://www.w3.org/2000/svg";
const xScale = f => 397 + 698 * (Math.log10(f) - 1);
const yScale = r => 238.7 - 155.67 * Math.log10(r);
const PL = 325, PR = 1395, PT = 76, PB = 1033;

function mk(tag, attrs, parent) {
  const el = document.createElementNS(NS, tag);
  for (const k in attrs) el.setAttribute(k, attrs[k]);
  parent.appendChild(el);
  return el;
}
const pts = document.getElementById('points');
function drawSeries(rows, kind, color, name) {
  const g = mk('g', {}, pts);
  
  
  rows.forEach(row => {
    const x = xScale(row[0]);
    for (let i = 1; i < row.length; i++) {
      const y = yScale(row[i]);
      let el;
      if (kind === 'circle') el = mk('circle', {cx: x, cy: y, r: 6, fill: 'none', stroke: color, 'stroke-width': 2.7}, g);
      else if (kind === 'tri') el = mk('polygon', {points: `${x},${y-7.5} ${x+6.5},${y+4.8} ${x-6.5},${y+4.8}`, fill: 'none', stroke: color, 'stroke-width': 2.7}, g);
      else el = mk('rect', {x: x-5.5, y: y-5.5, width: 11, height: 11, fill: 'none', stroke: color, 'stroke-width': 2.7}, g);
      
      
    }
  });
}
drawSeries(threePhRows, 'circle', '#1f77b4', 'series-3ph');
drawSeries(isotopeRows, 'tri', '#ff7f0e', 'series-isotope');
drawSeries(boundaryRows, 'square', '#2ca02c', 'series-boundary');

const ax = document.getElementById('axes');
const frame = mk('rect', {x: PL, y: PT, width: PR-PL, height: PB-PT, fill: 'none', stroke: '#000', 'stroke-width': 3}, ax);


function tick(x1, y1, x2, y2, w) { mk('line', {x1, y1, x2, y2, stroke: '#000', 'stroke-width': w}, ax); }
for (let e = -6; e <= 1; e++) {
  for (let m = 1; m <= 9; m++) {
    const y = yScale(m * Math.pow(10, e));
    if (y < PT || y > PB) continue;
    const len = m === 1 ? 17 : 9, w = m === 1 ? 2.5 : 2;
    tick(PL, y, PL + len, y, w);
    tick(PR, y, PR - len, y, w);
  }
}
for (let e = 0; e <= 2; e++) {
  for (let m = 1; m <= 9; m++) {
    const x = xScale(m * Math.pow(10, e));
    if (x < PL || x > PR) continue;
    const len = m === 1 ? 17 : 9, w = m === 1 ? 2.5 : 2;
    tick(x, PB, x, PB - len, w);
    tick(x, PT, x, PT + len, w);
  }
}
yTickExps.forEach(e => {
  const y = yScale(Math.pow(10, e));
  const t = mk('text', {x: 301, y: y + 21, 'font-size': 55, 'text-anchor': 'end'}, ax);
  
  
  const s = e < 0 ? '\u2212' + (-e) : String(e);
  t.innerHTML = `10<tspan dy="-23" font-size="39">${s}</tspan>`;
});
xTickExps.forEach(e => {
  const x = xScale(Math.pow(10, e));
  const t = mk('text', {x: x - 6, y: 1115, 'font-size': 55, 'text-anchor': 'middle'}, ax);
  
  
  t.innerHTML = `10<tspan dy="-23" font-size="39">${e}</tspan>`;
});
</script>
</body></html>
